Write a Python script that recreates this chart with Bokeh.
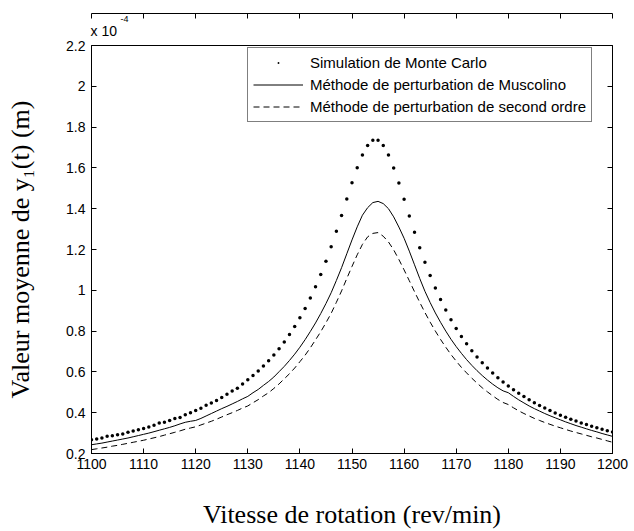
from bokeh.plotting import figure
from bokeh.models import (LinearAxis, FixedTicker, Legend, LegendItem, Range1d,
                          Title, CustomLabelingPolicy)
from bokeh.embed import file_html
from bokeh.resources import INLINE

# rotation speed (rev/min)
rpm = list(range(1100, 1201))

# mean value of y1(t), in units of 1e-4 m
monte_carlo = [
    0.267, 0.271, 0.276, 0.284, 0.287, 0.292, 0.296, 0.304, 0.310, 0.317,
    0.323, 0.330, 0.338, 0.349, 0.353, 0.362, 0.371, 0.377, 0.390, 0.400,
    0.411, 0.422, 0.437, 0.447, 0.460, 0.474, 0.490, 0.506, 0.520, 0.541,
    0.561, 0.582, 0.604, 0.629, 0.655, 0.683, 0.714, 0.747, 0.783, 0.822,
    0.865, 0.911, 0.962, 1.018, 1.078, 1.143, 1.214, 1.289, 1.367, 1.448,
    1.527, 1.601, 1.663, 1.710, 1.735, 1.735, 1.710, 1.663, 1.600, 1.526,
    1.446, 1.364, 1.285, 1.209, 1.138, 1.072, 1.011, 0.955, 0.904, 0.856,
    0.813, 0.774, 0.738, 0.704, 0.673, 0.645, 0.619, 0.594, 0.571, 0.550,
    0.531, 0.512, 0.495, 0.479, 0.463, 0.449, 0.435, 0.423, 0.411, 0.399,
    0.388, 0.378, 0.368, 0.359, 0.350, 0.342, 0.334, 0.326, 0.319, 0.312, 0.305,
]

muscolino = [
    0.243, 0.247, 0.251, 0.256, 0.261, 0.266, 0.271, 0.276, 0.282, 0.288,
    0.294, 0.300, 0.307, 0.314, 0.321, 0.328, 0.336, 0.345, 0.353, 0.358,
    0.362, 0.372, 0.384, 0.396, 0.408, 0.420, 0.431, 0.443, 0.455, 0.468,
    0.480, 0.498, 0.514, 0.534, 0.553, 0.575, 0.601, 0.627, 0.656, 0.687,
    0.721, 0.758, 0.798, 0.840, 0.886, 0.935, 0.988, 1.048, 1.111, 1.179,
    1.247, 1.311, 1.368, 1.405, 1.430, 1.436, 1.425, 1.400, 1.360, 1.310,
    1.255, 1.192, 1.125, 1.058, 0.995, 0.940, 0.889, 0.843, 0.800, 0.760,
    0.724, 0.691, 0.660, 0.632, 0.606, 0.582, 0.560, 0.540, 0.522, 0.507,
    0.498, 0.480, 0.463, 0.448, 0.433, 0.420, 0.408, 0.396, 0.385, 0.375,
    0.365, 0.355, 0.346, 0.337, 0.329, 0.321, 0.313, 0.306, 0.298, 0.291, 0.284,
]

second_order = [
    0.219, 0.223, 0.227, 0.231, 0.236, 0.240, 0.245, 0.250, 0.255, 0.260,
    0.265, 0.271, 0.277, 0.283, 0.290, 0.297, 0.304, 0.311, 0.319, 0.325,
    0.331, 0.340, 0.349, 0.358, 0.368, 0.379, 0.390, 0.400, 0.411, 0.423,
    0.433, 0.449, 0.464, 0.482, 0.498, 0.519, 0.541, 0.566, 0.591, 0.619,
    0.650, 0.682, 0.718, 0.757, 0.797, 0.841, 0.887, 0.941, 0.997, 1.058,
    1.117, 1.174, 1.225, 1.262, 1.279, 1.283, 1.265, 1.237, 1.198, 1.151,
    1.100, 1.047, 0.993, 0.941, 0.891, 0.844, 0.800, 0.759, 0.721, 0.685,
    0.653, 0.622, 0.595, 0.569, 0.545, 0.522, 0.502, 0.483, 0.465, 0.450,
    0.440, 0.424, 0.409, 0.396, 0.384, 0.372, 0.362, 0.352, 0.343, 0.334,
    0.326, 0.318, 0.310, 0.303, 0.296, 0.289, 0.282, 0.276, 0.269, 0.262, 0.255,
]

x_ticks = [1100, 1110, 1120, 1130, 1140, 1150, 1160, 1170, 1180, 1190, 1200]
y_ticks = [0.2, 0.4, 0.6, 0.8, 1.0, 1.2, 1.4, 1.6, 1.8, 2.0, 2.2]
y_tick_labels = ["0.2", "0.4", "0.6", "0.8", "1", "1.2", "1.4", "1.6", "1.8", "2", "2.2"]

series_labels = [
    "Simulation de Monte Carlo",
    "Méthode de perturbation de Muscolino",
    "Méthode de perturbation de second ordre",
]

SANS = "Liberation Sans"
SERIF = "Liberation Serif"

p = figure(
    width=634, height=531,
    output_backend="svg", toolbar_location=None,
    x_range=Range1d(x_ticks[0], x_ticks[-1]),
    y_range=Range1d(y_ticks[0], y_ticks[-1]),
    min_border_left=91, min_border_right=19,
    min_border_top=43, min_border_bottom=78,
)
p.xgrid.visible = False
p.ygrid.visible = False
p.outline_line_color = "black"
p.outline_line_width = 1
p.background_fill_color = "white"
p.border_fill_color = "white"

hide_labels = CustomLabelingPolicy(code="""
try { indices.clear(); } catch (e) {
  for (let i = 0; i < bboxes.length; i++) { indices.unset(i); }
}
return indices;
""")


def style_axis(ax, show_labels, standoff=5):
    ax.axis_line_color = "black"
    ax.axis_line_width = 1
    ax.major_tick_in = 5
    ax.major_tick_out = 0
    ax.minor_tick_in = 0
    ax.minor_tick_out = 0
    ax.major_tick_line_color = "black"
    ax.major_label_text_font = SANS
    ax.major_label_text_font_size = "14px"
    ax.major_label_text_color = "black"
    ax.major_label_standoff = standoff
    if not show_labels:
        ax.major_label_policy = hide_labels
        ax.major_label_standoff = 0


xa = p.xaxis[0]
xa.ticker = FixedTicker(ticks=x_ticks)
style_axis(xa, True, 5)
xa.axis_label = "Vitesse de rotation (rev/min)"
xa.axis_label_text_font = SERIF
xa.axis_label_text_font_size = "26px"
xa.axis_label_text_font_style = "normal"
xa.axis_label_text_color = "black"
xa.axis_label_standoff = 28

ya = p.yaxis[0]
ya.ticker = FixedTicker(ticks=y_ticks)
ya.major_label_overrides = {t: s for t, s in zip(y_ticks, y_tick_labels)}
style_axis(ya, True, 6)
ya.axis_label = "Valeur moyenne de y\u2081(t) (m)"
ya.axis_label_text_font = SERIF
ya.axis_label_text_font_size = "26px"
ya.axis_label_text_font_style = "normal"
ya.axis_label_text_color = "black"
ya.axis_label_standoff = 28

# multiplier shown above the y axis: "x 10" with a raised "-4"
p.add_layout(Title(text="x 10", align="left", offset=-1, standoff=14,
                   text_font=SANS, text_font_size="14px",
                   text_font_style="normal", text_color="black"), "above")
p.add_layout(Title(text="-4", align="left", offset=29, standoff=-16,
                   text_font=SANS, text_font_size="9px",
                   text_font_style="normal", text_color="black"), "above")

top_ax = LinearAxis(ticker=FixedTicker(ticks=x_ticks))
style_axis(top_ax, False)
p.add_layout(top_ax, "above")

right_ax = LinearAxis(ticker=FixedTicker(ticks=y_ticks))
style_axis(right_ax, False)
p.add_layout(right_ax, "right")

r_mc = p.scatter(rpm, monte_carlo, marker="dot", size=14, color="black")
r_mu = p.line(rpm, muscolino, line_color="black", line_width=1)
r_so = p.line(rpm, second_order, line_color="black", line_width=1, line_dash="6 4")

legend = Legend(
    items=[
        LegendItem(label=series_labels[0], renderers=[r_mc]),
        LegendItem(label=series_labels[1], renderers=[r_mu]),
        LegendItem(label=series_labels[2], renderers=[r_so]),
    ],
    location=(156, 331),
    border_line_color="black",
    border_line_width=1,
    background_fill_color="white",
    background_fill_alpha=1,
    padding=5,
    spacing=3,
    margin=0,
    glyph_width=50,
    glyph_height=19,
    label_height=19,
    label_standoff=7,
    label_text_font=SANS,
    label_text_font_size="15px",
    label_text_color="black",
)
p.add_layout(legend)

open("out.html", "w").write(file_html(p, INLINE))
